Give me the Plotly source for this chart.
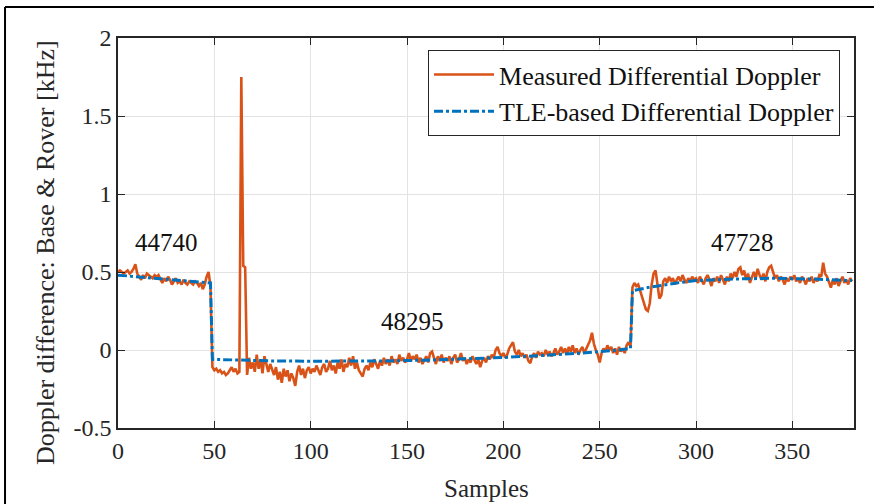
import plotly.graph_objects as go

measured = [
    0.50, 0.51, 0.50, 0.49, 0.50, 0.51, 0.49, 0.50, 0.52, 0.55,
    0.49, 0.47, 0.45, 0.48, 0.46, 0.49, 0.48, 0.47, 0.46, 0.48,
    0.47, 0.48, 0.45, 0.43, 0.46, 0.44, 0.47, 0.45, 0.42, 0.44,
    0.46, 0.43, 0.44, 0.42, 0.45, 0.43, 0.42, 0.44, 0.43, 0.42,
    0.44, 0.43, 0.41, 0.43, 0.39, 0.42, 0.47, 0.50, 0.41, -0.11,
    -0.13, -0.12, -0.14, -0.13, -0.15, -0.14, -0.16, -0.15, -0.13, -0.11,
    -0.14, -0.12, -0.15, -0.14, 1.75, 0.54, 0.53, -0.16, -0.05, -0.12,
    -0.08, -0.14, -0.03, -0.12, -0.06, -0.15, -0.04, -0.10, -0.14, -0.09,
    -0.12, -0.16, -0.11, -0.19, -0.14, -0.21, -0.12, -0.17, -0.13, -0.20,
    -0.15, -0.18, -0.23, -0.14, -0.10, -0.16, -0.12, -0.18, -0.13, -0.11,
    -0.15, -0.12, -0.14, -0.10, -0.13, -0.16, -0.11, -0.09, -0.14, -0.12,
    -0.07, -0.13, -0.10, -0.15, -0.08, -0.12, -0.06, -0.14, -0.09, -0.11,
    -0.05, -0.10, -0.04, -0.12, -0.08, -0.13, -0.15, -0.17, -0.12, -0.10,
    -0.13, -0.08, -0.11, -0.06, -0.09, -0.12, -0.07, -0.10, -0.05, -0.09,
    -0.06, -0.10, -0.04, -0.08, -0.06, -0.09, -0.03, -0.07, -0.05, -0.08,
    -0.06, -0.02, -0.07, -0.04, -0.06, -0.03, -0.08, -0.05, -0.09, -0.06,
    -0.04, -0.08, -0.02, -0.01, -0.06, -0.09, -0.04, -0.07, -0.03, -0.08,
    -0.05, -0.07, -0.04, -0.09, -0.05, -0.03, -0.08, -0.06, -0.02, -0.07,
    -0.05, -0.09, -0.06, -0.08, -0.04, -0.07, -0.09, -0.06, -0.11, -0.07,
    -0.05, -0.08, -0.04, -0.06, -0.03, -0.05, 0.00, 0.02, -0.02, -0.04,
    -0.02, -0.05, -0.03, 0.01, 0.03, 0.05, -0.01, -0.03, 0.00, -0.04,
    -0.02, -0.05, -0.03, -0.07, -0.085, -0.04, -0.02, -0.05, -0.01, -0.03,
    -0.02, -0.04, 0.00, -0.03, -0.01, -0.04, -0.02, 0.01, -0.03, -0.01,
    0.02, -0.02, 0.01, -0.03, 0.02, -0.01, 0.03, -0.02, 0.01, -0.03,
    0.00, 0.02, -0.02, 0.01, 0.03, 0.06, 0.11, 0.04, 0.00, -0.03,
    -0.08, -0.02, 0.01, -0.01, 0.03, 0.00, 0.02, -0.02, 0.01, -0.03,
    0.02, -0.01, 0.01, -0.02, 0.03, 0.05, 0.02, 0.40, 0.43, 0.41,
    0.42, 0.38, 0.34, 0.30, 0.26, 0.25, 0.30, 0.42, 0.49, 0.51,
    0.42, 0.33, 0.35, 0.44, 0.46, 0.43, 0.47, 0.44, 0.46, 0.42,
    0.45, 0.47, 0.44, 0.48, 0.45, 0.43, 0.46, 0.44, 0.47, 0.45,
    0.46, 0.43, 0.47, 0.44, 0.42, 0.46, 0.48, 0.45, 0.41, 0.46,
    0.44, 0.47, 0.43, 0.48, 0.45, 0.42, 0.47, 0.44, 0.49, 0.46,
    0.50, 0.47, 0.52, 0.53, 0.48, 0.51, 0.45, 0.49, 0.43, 0.47,
    0.50, 0.46, 0.52, 0.48, 0.45, 0.49, 0.44, 0.50, 0.53, 0.54,
    0.49, 0.46, 0.48, 0.44, 0.47, 0.45, 0.42, 0.46, 0.44, 0.47,
    0.45, 0.48, 0.44, 0.46, 0.43, 0.47, 0.45, 0.42, 0.46, 0.44,
    0.47, 0.43, 0.46, 0.44, 0.48, 0.47, 0.56, 0.49, 0.47, 0.44,
    0.40, 0.45, 0.42, 0.46, 0.41, 0.44, 0.47, 0.43, 0.45, 0.42,
    0.46, 0.44,
]
samples = list(range(len(measured)))

tle_samples = [0, 10, 20, 30, 40, 48, 49, 60, 80, 100, 120, 140, 160, 180, 200,
               220, 240, 260, 266, 267, 275, 290, 300, 320, 340, 360, 381]
tle_values = [0.48, 0.47, 0.46, 0.45, 0.44, 0.43, -0.06, -0.065, -0.07, -0.072,
              -0.072, -0.07, -0.065, -0.058, -0.048, -0.035, -0.02, 0.0, 0.01,
              0.38, 0.40, 0.43, 0.445, 0.455, 0.46, 0.455, 0.445]

label_text = ["44740", "48295", "47728"]
label_x = [25, 153, 324]
label_y = [0.69, 0.18, 0.69]

FONT = "Liberation Serif"
DARK = "#262626"

fig = go.Figure()
fig.add_trace(go.Scatter(x=samples, y=measured, mode="lines",
                         name="Measured Differential Doppler",
                         line=dict(color="#D95319", width=2.6)))
fig.add_trace(go.Scatter(x=tle_samples, y=tle_values, mode="lines",
                         name="TLE-based Differential Doppler",
                         line=dict(color="#0072BD", width=3, dash="dashdot")))

for t, xx, yy in zip(label_text, label_x, label_y):
    fig.add_annotation(x=xx, y=yy, text=t, showarrow=False,
                       font=dict(family=FONT, size=25, color="#111111"))

# axis titles placed as paper annotations
fig.add_annotation(xref="paper", yref="paper", x=-0.0992, y=0.451,
                   xanchor="center", yanchor="middle",
                   text="Doppler difference: Base & Rover [kHz]", textangle=-90,
                   showarrow=False, font=dict(family=FONT, size=26, color=DARK))
fig.add_annotation(xref="paper", yref="paper", x=0.501, y=-0.154,
                   xanchor="center", yanchor="middle",
                   text="Samples", showarrow=False,
                   font=dict(family=FONT, size=25, color=DARK))

axis_common = dict(showline=True, linecolor=DARK, linewidth=1.5, mirror="ticks",
                   ticks="inside", ticklen=7, tickwidth=1.3, tickcolor=DARK,
                   showgrid=True, gridcolor="#e3e3e3", gridwidth=1, zeroline=False,
                   automargin=False,
                   tickfont=dict(family=FONT, size=24, color=DARK))

fig.update_xaxes(range=[0, 382], tickvals=[0, 50, 100, 150, 200, 250, 300, 350],
                 **axis_common)
fig.update_yaxes(range=[-0.5, 2], tickvals=[-0.5, 0, 0.5, 1, 1.5, 2],
                 ticktext=["-0.5", "0", "0.5", "1", "1.5", "2"],
                 **axis_common)

# outer frame lines (top and left)
fig.add_shape(type="line", xref="paper", yref="paper", x0=-0.1535, x1=1.05,
              y0=1.0795, y1=1.0795, line=dict(color="black", width=2))
fig.add_shape(type="line", xref="paper", yref="paper", x0=-0.1535, x1=-0.1535,
              y0=-0.25, y1=1.0795, line=dict(color="black", width=2))

fig.update_layout(
    width=874, height=504,
    margin=dict(l=118, r=20, t=38, b=76),
    paper_bgcolor="white", plot_bgcolor="white",
    font=dict(family=FONT, color=DARK),
    showlegend=True,
    legend=dict(x=0.981, y=0.969, xanchor="right", yanchor="top",
                bgcolor="white", bordercolor=DARK, borderwidth=1,
                font=dict(family=FONT, size=26, color="#111111"),
                tracegroupgap=0, itemwidth=60),
)

fig.write_html("out.html", config={"displayModeBar": False},
               post_script="document.body.style.margin='0px';document.body.style.overflow='hidden';")
